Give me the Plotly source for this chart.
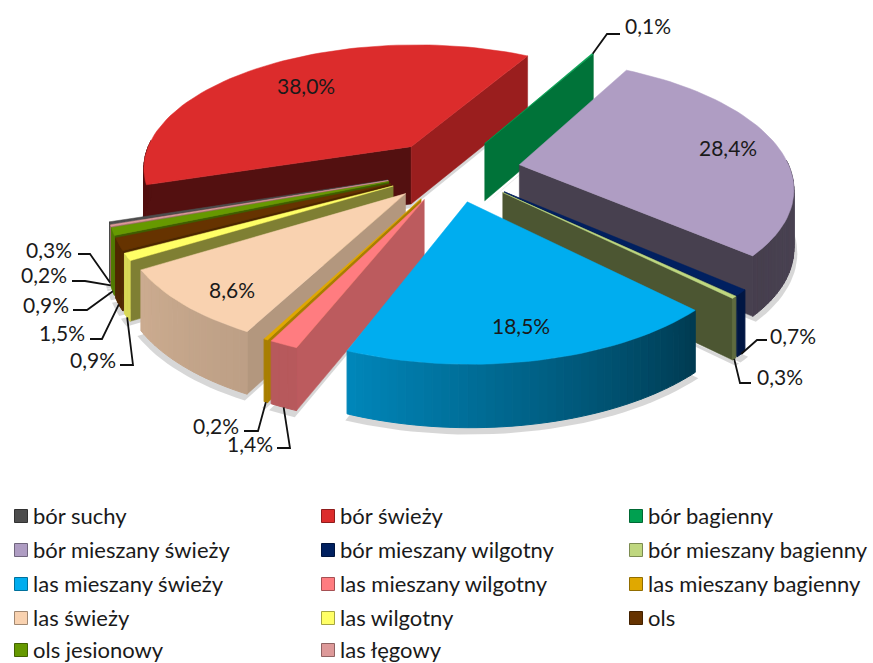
import math
import plotly.graph_objects as go

# ---- data ----
categories = ["bór świeży", "bór bagienny", "bór mieszany świeży", "bór mieszany wilgotny",
              "bór mieszany bagienny", "las mieszany świeży", "las mieszany wilgotny",
              "las mieszany bagienny", "las świeży", "las wilgotny", "ols", "ols jesionowy",
              "las łęgowy", "bór suchy"]
values = [38.0, 0.1, 28.4, 0.7, 0.3, 18.5, 1.4, 0.2, 8.6, 0.9, 1.5, 0.9, 0.2, 0.3]
legend_order = ["bór suchy", "bór świeży", "bór bagienny",
                "bór mieszany świeży", "bór mieszany wilgotny", "bór mieszany bagienny",
                "las mieszany świeży", "las mieszany wilgotny", "las mieszany bagienny",
                "las świeży", "las wilgotny", "ols",
                "ols jesionowy", "las łęgowy"]

# ---- styles ----
colors = ["#DC2C2C", "#00A050", "#AF9DC3", "#002060", "#BFD77F", "#00ADEF", "#FF7C80",
          "#E0A800", "#F9D2B0", "#FFFF66", "#663300", "#669900", "#DD9999", "#4D4D4D"]
# start wall, end wall, rim at start angle, rim at end angle (brightness factors)
shades = [(0.38, 0.70, 0.38, 0.38), (0.7, 0.72, 0.7, 0.7), (0.7, 0.41, 0.5, 0.40),
          (0.7, 0.85, 0.7, 0.7), (0.7, 0.40, 0.5, 0.5), (0.7, 0.7, 0.34, 0.78),
          (0.74, 0.7, 0.72, 0.72), (0.75, 0.75, 0.75, 0.75), (0.72, 0.7, 0.76, 0.82),
          (0.50, 0.7, 0.85, 0.85), (0.75, 0.7, 0.8, 0.8), (0.62, 0.7, 0.8, 0.8),
          (0.7, 0.7, 0.7, 0.7), (0.7, 0.7, 0.7, 0.7)]
draw_order = ["bór świeży", "bór bagienny", "bór suchy", "las łęgowy", "ols jesionowy", "ols",
              "las wilgotny", "bór mieszany świeży", "bór mieszany wilgotny",
              "bór mieszany bagienny", "las świeży", "las mieszany bagienny",
              "las mieszany wilgotny", "las mieszany świeży"]
FONT = "Lato"
TEXT = "#1a1a1a"

# ---- projection of the exploded pie ----
START, EXPLODE = -108.0, 0.25
CX, CY, RP, KP, PERSP, DEPTH = 453, 170, 271, 125, 0.16, 58


def project(X, Y, z):
    s = 1 / (1 + PERSP * Y)
    return CX + RP * X * s, CY - KP * Y * s + z * DEPTH * s ** 0.4


def shade(hex_color, f):
    r, g, b = (int(hex_color[i:i + 2], 16) for i in (1, 3, 5))
    return f"rgb({int(r * f)},{int(g * f)},{int(b * f)})"


total = sum(values)
spans = {}
angle = START
for name, v in zip(categories, values):
    spans[name] = (angle, angle + v / total * 360)
    angle += v / total * 360


def on_slice(name, theta, r, z):
    a, b = spans[name]
    m = math.radians((a + b) / 2)
    t = math.radians(theta)
    return project(r * math.sin(t) + EXPLODE * math.sin(m),
                   r * math.cos(t) + EXPLODE * math.cos(m), z)


fig = go.Figure()


def poly(points, color, width=1.0):
    fig.add_trace(go.Scatter(x=[p[0] for p in points] + [points[0][0]],
                             y=[p[1] for p in points] + [points[0][1]],
                             mode="lines", fill="toself", fillcolor=color,
                             line=dict(color=color, width=width),
                             hoverinfo="skip", showlegend=False))


for name in draw_order:
    i = categories.index(name)
    col = colors[i]
    a, b = spans[name]
    sw, ew, r0, r1 = shades[i]
    # soft shadow on the ground
    m = max(2, int((b - a) / 2) + 2)
    ground = [on_slice(name, 0, 0, 1.07)] + [on_slice(name, a + (b - a) * k / (m - 1), 1.012, 1.07) for k in range(m)]
    poly(ground, "rgba(110,110,110,0.28)", 0)
    # radial walls that face the viewer
    if math.cos(math.radians(a - 90)) < 0:
        poly([on_slice(name, a, 0, 0), on_slice(name, a, 1, 0),
              on_slice(name, a, 1, 1), on_slice(name, a, 0, 1)], shade(col, sw), 0.5)
    if math.cos(math.radians(b + 90)) < 0:
        poly([on_slice(name, b, 0, 0), on_slice(name, b, 1, 0),
              on_slice(name, b, 1, 1), on_slice(name, b, 0, 1)], shade(col, ew), 0.5)
    # outer rim
    n = max(1, int((b - a) / 1.5))
    for k in range(n):
        t0 = a + (b - a) * k / n
        t1 = a + (b - a) * (k + 1) / n
        if math.cos(math.radians((t0 + t1) / 2)) < 0.05:
            poly([on_slice(name, t0, 1, 0), on_slice(name, t1, 1, 0),
                  on_slice(name, t1, 1, 1), on_slice(name, t0, 1, 1)],
                 shade(col, r0 + (r1 - r0) * (k + 0.5) / n))
    # top face
    top = [on_slice(name, 0, 0, 0)] + [on_slice(name, a + (b - a) * k / (m - 1), 1, 0) for k in range(m)]
    poly(top, col, 0.5)

# ---- value labels (position in page pixels, elbow of the leader line) ----
value_labels = {
    "bór świeży": ("38,0%", 306, 85, None),
    "bór bagienny": ("0,1%", 648, 25, (607, 34, 620, 34)),
    "bór mieszany świeży": ("28,4%", 728, 147, None),
    "bór mieszany wilgotny": ("0,7%", 793, 335, (757, 340, 767, 340)),
    "bór mieszany bagienny": ("0,3%", 780, 376, (740, 383, 751, 383)),
    "las mieszany świeży": ("18,5%", 521, 325, None),
    "las mieszany wilgotny": ("1,4%", 250, 443, (290, 448, 277, 448)),
    "las mieszany bagienny": ("0,2%", 216, 425, (258, 431, 244, 431)),
    "las świeży": ("8,6%", 232, 289, None),
    "las wilgotny": ("0,9%", 93, 359, (133, 365, 120, 365)),
    "ols": ("1,5%", 62, 332, (102, 339, 90, 339)),
    "ols jesionowy": ("0,9%", 46, 304, (87, 310, 73, 310)),
    "las łęgowy": ("0,2%", 44, 274, (85, 281, 72, 281)),
    "bór suchy": ("0,3%", 49, 249, (90, 254, 78, 254)),
}
for name, (txt, lx, ly, elbow) in value_labels.items():
    if elbow:
        a, b = spans[name]
        z = 0 if name == "bór bagienny" else 1
        sx, sy = on_slice(name, (a + b) / 2, 1, z)
        fig.add_trace(go.Scatter(x=[sx, elbow[0], elbow[2]], y=[sy, elbow[1], elbow[3]],
                                 mode="lines", line=dict(color="#111111", width=1.8),
                                 hoverinfo="skip", showlegend=False))
    fig.add_annotation(x=lx, y=ly, xref="x", yref="y", text=txt, showarrow=False,
                       font=dict(family=FONT, size=21, color=TEXT))

# ---- legend grid ----
LEG_X = [21, 328, 636]
LEG_Y = [516, 550, 584, 618, 650]
for k, name in enumerate(legend_order):
    row, col = k // 3, k % 3
    c = colors[categories.index(name)]
    fig.add_trace(go.Scatter(
        x=[LEG_X[col]], y=[LEG_Y[row]], mode="markers",
        marker=dict(symbol="square", size=13, color=c, line=dict(color=shade(c, 0.65), width=1)),
        hoverinfo="skip", showlegend=False))
    fig.add_annotation(x=LEG_X[col] + 10, y=LEG_Y[row] - 1, xref="x", yref="y", text=name,
                       showarrow=False, xanchor="left",
                       font=dict(family=FONT, size=22, color=TEXT))

fig.update_layout(
    width=873, height=663, margin=dict(l=0, r=0, t=0, b=0),
    paper_bgcolor="white", plot_bgcolor="white", showlegend=False,
    xaxis=dict(range=[0, 873], visible=False, fixedrange=True),
    yaxis=dict(range=[663, 0], visible=False, fixedrange=True),
)
fig.write_html("out.html", config={"displayModeBar": False},
               post_script="document.body.style.margin='0';document.body.style.overflow='hidden';")
